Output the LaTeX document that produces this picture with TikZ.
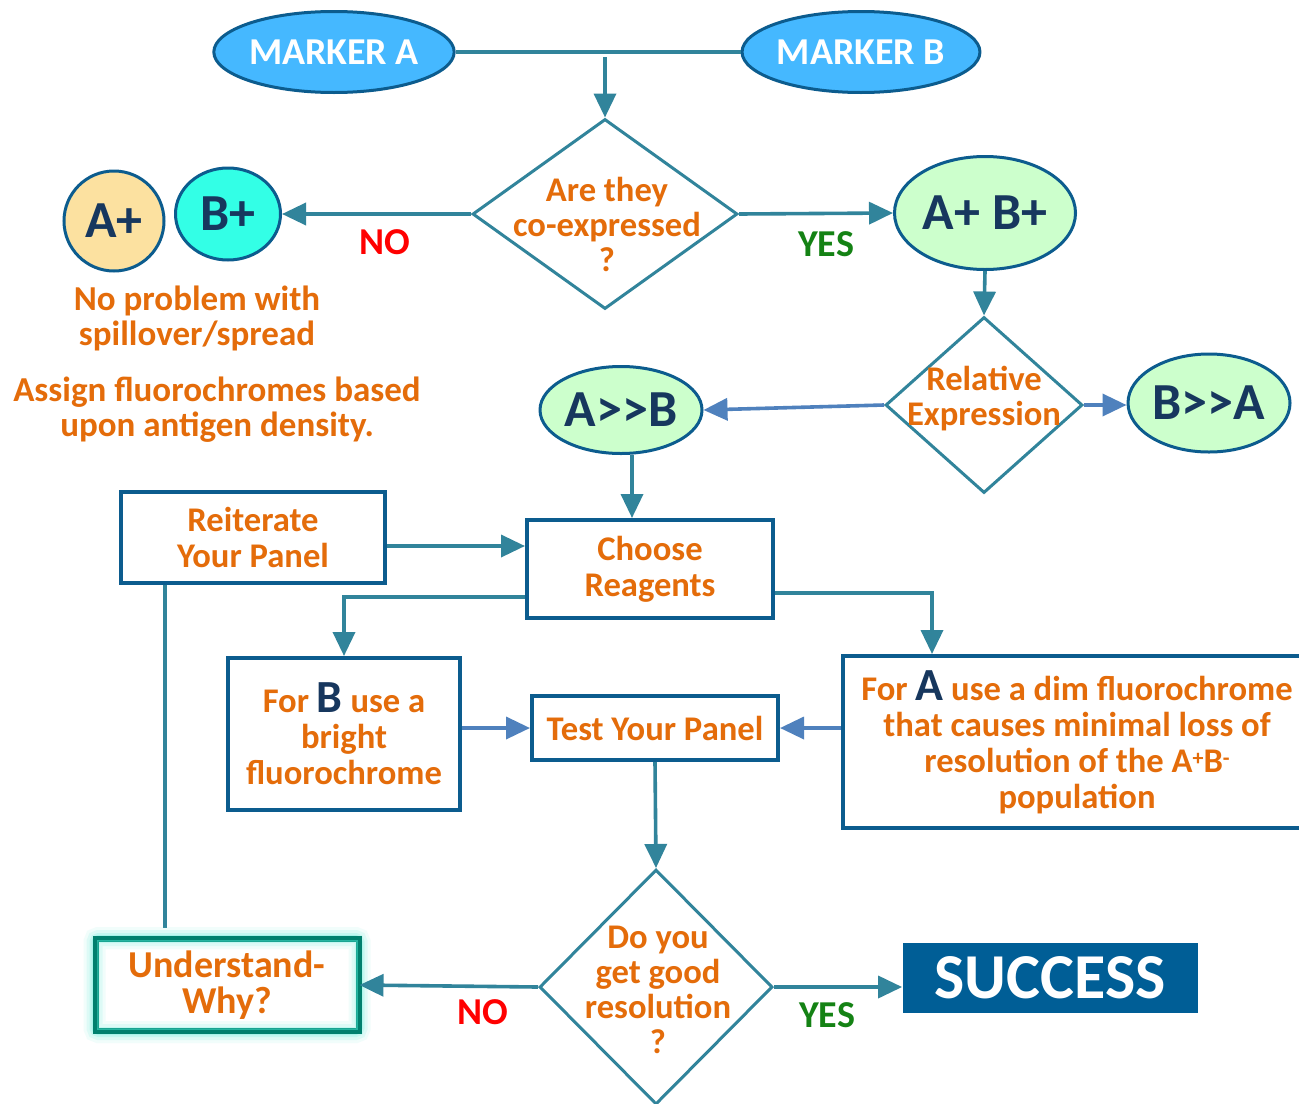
\documentclass[tikz,border=0pt]{standalone}
\usepackage{fontspec}
\setmainfont{Carlito}
\usetikzlibrary{shapes.geometric, arrows.meta, positioning, calc}
\definecolor{myblue}{RGB}{12,92,142}
\definecolor{myteal}{RGB}{49,132,155}
\definecolor{mysteel}{RGB}{79,129,189}
\definecolor{myorange}{RGB}{228,108,10}
\definecolor{mynavy}{RGB}{23,55,94}
\definecolor{skyfill}{RGB}{69,184,255}
\definecolor{apfill}{RGB}{252,225,160}
\definecolor{bpfill}{RGB}{51,255,230}
\definecolor{greenfill}{RGB}{204,255,204}
\definecolor{succfill}{RGB}{0,94,150}
\definecolor{undborder}{RGB}{0,128,110}
\definecolor{glowcyan}{RGB}{80,235,215}
\definecolor{myred}{RGB}{255,0,0}
\definecolor{mygreen}{RGB}{20,130,20}
\newcommand{\supmark}[1]{\raisebox{3.5pt}{\fontsize{11}{11}\selectfont #1}}
\tikzset{
  marker/.style={ellipse, draw=myblue, fill=skyfill, line width=1.5pt,
    inner sep=0pt, minimum width=116pt, minimum height=40.5pt,
    text=white, font=\bfseries\fontsize{19}{21}\selectfont},
  pop/.style={ellipse, draw=myblue, line width=1.5pt, inner sep=0pt,
    text=mynavy, font=\bfseries\fontsize{26}{28}\selectfont},
  decision/.style={diamond, draw=myteal, fill=white, line width=1.5pt, inner sep=0pt},
  qtext/.style={text=myorange, align=center, font=\bfseries\fontsize{17.3}{17.5}\selectfont},
  stepbox/.style={rectangle, draw=myblue, fill=white, line width=2pt,
    text=myorange, align=center, inner sep=0pt,
    font=\bfseries\fontsize{17.3}{18}\selectfont},
  arrow/.style={-{Stealth[length=12pt, width=11pt, inset=0pt]}, line width=1.8pt, color=myteal},
  bluearrow/.style={-{Stealth[length=12pt, width=11pt, inset=0pt]}, line width=1.8pt, color=mysteel},
  line/.style={line width=1.8pt, color=myteal},
  nolabel/.style={text=myred, font=\bfseries\fontsize{19}{21}\selectfont},
  yeslabel/.style={text=mygreen, font=\bfseries\fontsize{19}{21}\selectfont},
  note/.style={text=myorange, align=center, font=\bfseries\fontsize{17.5}{17.5}\selectfont}
}

\begin{document}
\begin{tikzpicture}[x=0.5pt, y=-0.5pt]
  \useasboundingbox[fill=white] (0,0) rectangle (1299,1103);

  % markers
  \node[marker] (ma) at (334,52) {MARKER A};
  \node[marker] (mb) at (861,52) {MARKER B};
  \draw[line] (ma.east) -- (mb.west);
  \coordinate (split) at (605,57);

  % first question
  \node[decision, minimum width=132.5pt, minimum height=95pt] (q1) at (605,214) {};
  \node[qtext] at (607,224) {Are they\\co-expressed\\?};
  \draw[arrow] (split) -- (q1.north);

  \node[pop, circle, fill=apfill, minimum size=50pt] (ap) at (114,221) {A+};
  \node[pop, fill=bpfill, minimum width=52.5pt, minimum height=46pt] (bp) at (228,214) {B+};
  \node[pop, fill=greenfill, minimum width=90.5pt, minimum height=56.5pt] (ab) at (985,213) {A+ B+};
  \draw[arrow] (q1.west) -- (bp.east);
  \draw[arrow] (q1.east) -- (ab.west);
  \node[nolabel] at (385,242) {NO};
  \node[yeslabel] at (826,244) {YES};

  \node[note] at (197,318) {No problem with\\spillover/spread};
  \node[note] at (217,410) {Assign fluorochromes based\\upon antigen density.};

  % relative expression
  \node[decision, minimum width=98.5pt, minimum height=88pt] (q2) at (984,405) {};
  \node[qtext] at (984,399) {Relative\\Expression};
  \draw[arrow] (ab.south) -- (q2.north);
  \node[pop, fill=greenfill, minimum width=81pt, minimum height=49pt] (ba) at (1209,403) {B>{}>A};
  \node[pop, fill=greenfill, minimum width=81pt, minimum height=43.5pt] (aa) at (621,410) {A>{}>B};
  \draw[bluearrow] (q2.east) -- (q2.east -| ba.west);
  \draw[bluearrow] (q2.west) -- (aa.east);

  % reagents
  \node[stepbox, minimum width=123pt, minimum height=49pt] (choose) at (650,569) {Choose\\Reagents};
  \node[stepbox, minimum width=132pt, minimum height=45.5pt] (reit) at (253,537) {Reiterate\\Your Panel};
  \draw[arrow] ([xshift=5.5pt]aa.south) -- ([xshift=5.5pt]aa.south |- choose.north);
  \draw[arrow] (reit.east |- 0,546) -- (choose.west |- 0,546);
  \coordinate (loopend) at (165,928);
  \draw[line] (reit.south -| loopend) -- (loopend);

  \node[stepbox, minimum width=116pt, minimum height=76pt] (forb) at (344,734)
    {For {\color{mynavy}\fontsize{23}{18}\selectfont B} use a\\bright\\fluorochrome};
  \node[stepbox, minimum width=234pt, minimum height=86pt] (fora) at (1077,742)
    {For {\color{mynavy}\fontsize{23}{18}\selectfont A} use a dim fluorochrome\\that causes minimal loss of\\resolution of the A\supmark{+}B\supmark{-}\\population};
  \node[stepbox, minimum width=123pt, minimum height=32pt] (test) at (655,728) {Test Your Panel};
  \draw[arrow] (choose.west |- 0,597) -| (forb.north);
  \draw[arrow] (choose.east |- 0,593) -| (fora.north -| 932,0);
  \draw[bluearrow] (forb.east |- test.west) -- (test.west);
  \draw[bluearrow] (fora.west |- test.east) -- (test.east);

  % resolution check
  \node[decision, minimum width=116.5pt, minimum height=117.5pt] (q3) at (656,987) {};
  \node[qtext] at (658,990) {Do you\\get good\\resolution\\?};
  \draw[arrow] (test.south) -- (q3.north);

  \node[rectangle, fill=succfill, minimum width=147.5pt, minimum height=35pt,
    text=white, font=\bfseries\fontsize{32}{34}\selectfont] (succ) at (1050,978) {SUCCESS};
  \draw[arrow] (q3.east) -- (q3.east -| succ.west);
  \node[yeslabel] at (827,1015) {YES};

  \node[stepbox, draw=undborder, minimum width=130.5pt, minimum height=45pt,
    font=\bfseries\fontsize{19}{18}\selectfont] (und) at (227,985) {Understand-\\Why?};
  \foreach \w/\o in {11/0.08, 8/0.12, 5/0.18, 3/0.25}
    \draw[line width=\w pt, draw=glowcyan, opacity=\o, rounded corners=2pt] (und.south west) rectangle (und.north east);
  \draw[line width=2pt, draw=undborder] (und.south west) rectangle (und.north east);
  \draw[arrow] (q3.west) -- (und.east);
  \node[nolabel] at (483,1012) {NO};
\end{tikzpicture}
\end{document}
